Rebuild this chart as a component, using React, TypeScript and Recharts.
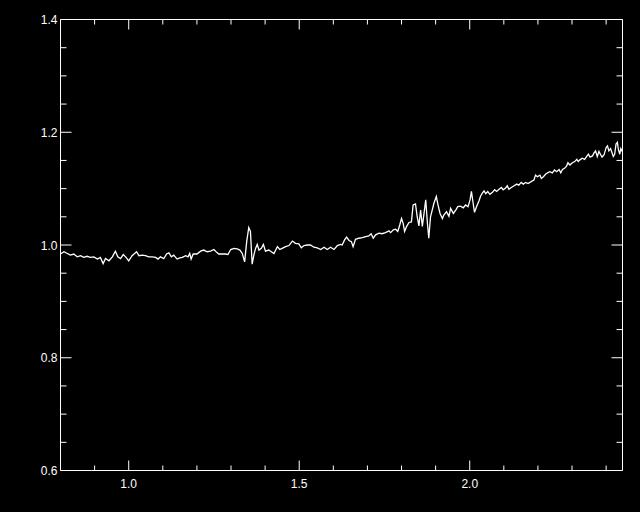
import React from 'react';
import { LineChart, Line, XAxis, YAxis } from 'recharts';

// wavelength (x) and normalised flux (y)
const wavelength = [
  0.800, 0.810, 0.820, 0.829, 0.839, 0.849, 0.859, 0.868, 0.878, 0.888,
  0.898, 0.908, 0.917, 0.925, 0.932, 0.942, 0.952, 0.961, 0.968, 0.976,
  0.984, 0.991, 1.000, 1.010, 1.023, 1.030, 1.040, 1.049, 1.059, 1.069,
  1.079, 1.086, 1.093, 1.103, 1.111, 1.118, 1.125, 1.132, 1.142, 1.150,
  1.157, 1.167, 1.174, 1.179, 1.183, 1.189, 1.200,
  1.211, 1.220, 1.230, 1.240, 1.250, 1.258, 1.264, 1.274, 1.284, 1.291,
  1.299, 1.309, 1.318, 1.326, 1.333, 1.340, 1.346, 1.352, 1.357, 1.362,
  1.367, 1.372, 1.377, 1.382, 1.389, 1.395, 1.401, 1.411, 1.416, 1.426,
  1.436, 1.443, 1.450, 1.460, 1.470, 1.480, 1.489, 1.499, 1.506, 1.514,
  1.524, 1.533, 1.543, 1.553, 1.563, 1.573, 1.582, 1.592, 1.602, 1.612,
  1.621, 1.626, 1.633, 1.639, 1.646, 1.653, 1.658, 1.665, 1.675, 1.685,
  1.695, 1.704, 1.711, 1.717, 1.724, 1.734, 1.743, 1.753, 1.763, 1.768,
  1.776, 1.783, 1.789, 1.795, 1.800, 1.805, 1.809, 1.815, 1.822, 1.829,
  1.834, 1.841, 1.846, 1.851, 1.856, 1.861, 1.866, 1.871, 1.876, 1.880,
  1.885, 1.890, 1.895, 1.902, 1.907, 1.913, 1.920, 1.924, 1.932, 1.939,
  1.944, 1.952, 1.959, 1.965, 1.973, 1.981, 1.988, 1.995, 2.001, 2.005,
  2.010, 2.014, 2.020, 2.027,
  2.032, 2.037, 2.042, 2.047, 2.053, 2.059, 2.066, 2.073, 2.079, 2.086,
  2.093, 2.098, 2.105, 2.110, 2.115, 2.122, 2.130, 2.138, 2.144, 2.151,
  2.157, 2.164, 2.171, 2.179, 2.184, 2.188, 2.193, 2.198, 2.206, 2.210,
  2.216, 2.223, 2.228, 2.235, 2.242, 2.249, 2.255, 2.262, 2.267, 2.272,
  2.278, 2.284, 2.288, 2.294, 2.301, 2.308, 2.314, 2.318, 2.323, 2.330,
  2.337, 2.343, 2.348, 2.353, 2.360, 2.364, 2.369, 2.374, 2.379, 2.384,
  2.388, 2.394, 2.400, 2.404, 2.408, 2.413, 2.416, 2.421, 2.425, 2.429,
  2.433, 2.436, 2.440, 2.443, 2.447,
];

const flux = [
  0.984, 0.988, 0.985, 0.982, 0.984, 0.979, 0.981, 0.978, 0.980, 0.978,
  0.979, 0.975, 0.978, 0.967, 0.976, 0.972, 0.979, 0.989, 0.979, 0.976,
  0.983, 0.979, 0.972, 0.981, 0.988, 0.981, 0.982, 0.981, 0.979, 0.979,
  0.978, 0.975, 0.979, 0.976, 0.984, 0.986, 0.979, 0.982, 0.975, 0.977,
  0.978, 0.981, 0.979, 0.985, 0.975, 0.984, 0.984,
  0.989, 0.991, 0.988, 0.989, 0.992, 0.987, 0.984, 0.984, 0.984, 0.983,
  0.992, 0.994, 0.993, 0.991, 0.985, 0.970, 1.006, 1.031, 1.024, 0.966,
  0.982, 0.994, 1.001, 0.991, 0.994, 1.001, 0.989, 0.991, 0.989, 0.985,
  0.997, 0.992, 0.994, 0.997, 0.999, 1.007, 1.003, 1.002, 0.995, 0.999,
  1.000, 1.000, 0.996, 0.995, 0.992, 0.996, 0.992, 0.996, 0.992, 0.999,
  1.001, 1.000, 1.009, 1.014, 1.008, 1.006, 0.997, 1.010, 1.012, 1.013,
  1.015, 1.016, 1.020, 1.012, 1.018, 1.021, 1.020, 1.022, 1.025, 1.022,
  1.027, 1.028, 1.024, 1.036, 1.047, 1.038, 1.024, 1.033, 1.040, 1.041,
  1.071, 1.073, 1.050, 1.034, 1.062, 1.033, 1.056, 1.080, 1.038, 1.012,
  1.050, 1.062, 1.074, 1.086, 1.071, 1.056, 1.047, 1.053, 1.059, 1.051,
  1.065, 1.056, 1.062, 1.068, 1.069, 1.066, 1.071, 1.068, 1.080, 1.095,
  1.074, 1.058, 1.068, 1.078,
  1.087, 1.092, 1.096, 1.091, 1.095, 1.090, 1.093, 1.098, 1.095, 1.099,
  1.102, 1.098, 1.101, 1.105, 1.099, 1.102, 1.105, 1.108, 1.106, 1.111,
  1.108, 1.111, 1.109, 1.112, 1.114, 1.115, 1.124, 1.121, 1.124, 1.118,
  1.121, 1.126, 1.128, 1.130, 1.128, 1.133, 1.130, 1.134, 1.128, 1.134,
  1.136, 1.140, 1.146, 1.142, 1.146, 1.148, 1.152, 1.148, 1.151, 1.154,
  1.152, 1.157, 1.161, 1.156, 1.158, 1.163, 1.167, 1.157, 1.166, 1.160,
  1.156, 1.160, 1.173, 1.176, 1.167, 1.171, 1.166, 1.157, 1.161, 1.179,
  1.182, 1.169, 1.161, 1.171, 1.166,
];

const xTicks = [0.9, 1.0, 1.1, 1.2, 1.3, 1.4, 1.5, 1.6, 1.7, 1.8, 1.9, 2.0, 2.1, 2.2, 2.3, 2.4];
const yTicks = [
  0.6, 0.65, 0.7, 0.75, 0.8, 0.85, 0.9, 0.95, 1.0,
  1.05, 1.1, 1.15, 1.2, 1.25, 1.3, 1.35, 1.4,
];

const data = wavelength.map((x, i) => ({ x, y: flux[i] }));

const FONT = '"Liberation Sans", Arial, sans-serif';
const isMajorX = (v: number) => Math.abs(v * 2 - Math.round(v * 2)) < 1e-6;
const isMajorY = (v: number) => Math.abs(v * 5 - Math.round(v * 5)) < 1e-6;

// ticks point inward, as in the original plot
const BottomTick = ({ x, y, payload }: any) => {
  const major = isMajorX(payload.value);
  return (
    <g>
      <line x1={x} y1={y} x2={x} y2={y - (major ? 10 : 5)} stroke="#fff" />
      {major && (
        <text x={x} y={y + 17} textAnchor="middle" fill="#fff" fontSize={12} fontFamily={FONT}>
          {payload.value.toFixed(1)}
        </text>
      )}
    </g>
  );
};

const TopTick = ({ x, y, payload }: any) => {
  const major = isMajorX(payload.value);
  return <line x1={x} y1={y} x2={x} y2={y + (major ? 10 : 5)} stroke="#fff" />;
};

const LeftTick = ({ x, y, payload }: any) => {
  const major = isMajorY(payload.value);
  return (
    <g>
      <line x1={x} y1={y} x2={x + (major ? 11 : 6)} y2={y} stroke="#fff" />
      {major && (
        <text x={x - 3} y={y + 4.5} textAnchor="end" fill="#fff" fontSize={12} fontFamily={FONT}>
          {payload.value.toFixed(1)}
        </text>
      )}
    </g>
  );
};

const RightTick = ({ x, y, payload }: any) => {
  const major = isMajorY(payload.value);
  return <line x1={x} y1={y} x2={x - (major ? 11 : 6)} y2={y} stroke="#fff" />;
};

export default function App() {
  return (
    <div style={{ position: 'absolute', left: 0, top: 0, width: 640, height: 512, background: '#000' }}>
      <LineChart
        width={640}
        height={512}
        data={data}
        margin={{ top: 9.5, right: 0, bottom: 11.5, left: 0.5 }}
      >
        <XAxis
          dataKey="x"
          type="number"
          domain={[0.8, 2.448]}
          ticks={xTicks}
          interval={0}
          allowDataOverflow
          height={30}
          tickSize={0}
          tickMargin={0}
          tickLine={false}
          axisLine={{ stroke: '#fff' }}
          tick={<BottomTick />}
        />
        <XAxis
          xAxisId="top"
          dataKey="x"
          type="number"
          orientation="top"
          domain={[0.8, 2.448]}
          ticks={xTicks}
          interval={0}
          allowDataOverflow
          height={10}
          tickSize={0}
          tickMargin={0}
          tickLine={false}
          axisLine={{ stroke: '#fff' }}
          tick={<TopTick />}
        />
        <YAxis
          type="number"
          domain={[0.6, 1.4]}
          ticks={yTicks}
          interval={0}
          allowDataOverflow
          width={60}
          tickSize={0}
          tickMargin={0}
          tickLine={false}
          axisLine={{ stroke: '#fff' }}
          tick={<LeftTick />}
        />
        <YAxis
          yAxisId="right"
          type="number"
          orientation="right"
          domain={[0.6, 1.4]}
          ticks={yTicks}
          interval={0}
          allowDataOverflow
          width={17.5}
          tickSize={0}
          tickMargin={0}
          tickLine={false}
          axisLine={{ stroke: '#fff' }}
          tick={<RightTick />}
        />
        <Line
          type="linear"
          dataKey="y"
          stroke="#fff"
          strokeWidth={1.3}
          dot={false}
          isAnimationActive={false}
        />
      </LineChart>
    </div>
  );
}
